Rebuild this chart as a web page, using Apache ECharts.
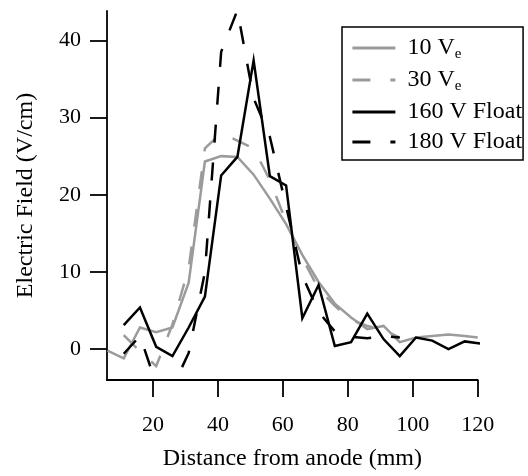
<!DOCTYPE html>
<html>
<head>
<meta charset="utf-8">
<script src="https://cdn.jsdelivr.net/npm/echarts@6/dist/echarts.min.js"></script>
<style>
html,body{margin:0;padding:0;background:#fff;}
#chart{width:528px;height:476px;}
</style>
</head>
<body>
<div id="chart"></div>
<script>
// Distance from anode (mm) and electric field (V/cm) per series
const x10 = [6, 11, 16, 21, 26, 31, 36, 41, 46, 51, 56, 61, 66, 71, 76, 81, 86, 91, 96, 101, 106, 111, 116, 120];
const y10 = [-0.2, -1.2, 2.8, 2.2, 2.8, 8.6, 24.3, 25.0, 24.9, 22.6, 19.5, 16.2, 12.2, 8.7, 5.9, 4.1, 2.6, 3.0, 0.9, 1.5, 1.7, 1.9, 1.7, 1.5];

const x30 = [11, 16, 21, 26, 31, 36, 41, 46, 51, 56, 61, 66, 71, 76, 81, 86, 91, 96];
const y30 = [1.8, -0.3, -2.2, 3.2, 10.5, 26.0, 28.0, 27.0, 26.0, 21.9, 16.5, 11.8, 7.8, 5.6, 3.8, 3.0, 2.5, 1.5];

const x160 = [11, 16, 21, 26, 31, 36, 41, 46, 51, 56, 61, 66, 71, 76, 81, 86, 91, 96, 101, 106, 111, 116, 121];
const y160 = [3.1, 5.4, 0.3, -0.9, 2.8, 6.8, 22.5, 24.9, 37.4, 22.4, 21.2, 4.0, 8.3, 0.4, 0.9, 4.6, 1.3, -0.9, 1.5, 1.1, 0.0, 1.0, 0.7];

const x180 = [11, 16, 21, 26, 31, 36, 41, 46, 51, 56, 61, 66, 71, 76, 81, 86, 91, 96];
const y180 = [-0.6, 1.7, -4.5, -5.0, -0.5, 10.0, 38.5, 43.9, 32.5, 27.5, 18.5, 9.5, 4.8, 2.3, 1.6, 1.4, 1.7, 1.5];

const seriesNames = ['10 Ve', '30 Ve', '160 V Float', '180 V Float'];
const xTicks = [20, 40, 60, 80, 100, 120];
const yTicks = [0, 10, 20, 30, 40];

const pairs = (xs, ys) => xs.map((x, i) => [x, ys[i]]);

const FONT = '"Liberation Serif", "Times New Roman", serif';
const GRAY = '#9b9b9b';
const DASH = [18, 20];

const chart = echarts.init(document.getElementById('chart'), null, {renderer: 'canvas'});

function mkSeries(name, data, color, dashed) {
  return {
    name: name,
    type: 'line',
    data: data,
    symbol: 'none',
    showSymbol: false,
    clip: true,
    lineStyle: {color: color, width: 2.5, type: dashed ? DASH : 'solid', cap: 'butt', join: 'miter'},
    itemStyle: {color: color},
    emphasis: {disabled: true}
  };
}

chart.setOption({
  animation: false,
  backgroundColor: '#fff',
  grid: {left: 107, right: 50.3, top: 11, bottom: 95, containLabel: false},
  xAxis: {
    type: 'value',
    min: 5.85,
    max: 120,
    name: 'Distance from anode (mm)',
    nameLocation: 'middle',
    nameGap: 67,
    nameTextStyle: {fontFamily: FONT, fontSize: 24, color: '#000'},
    axisLine: {show: true, onZero: false, lineStyle: {color: '#000', width: 1.8}},
    axisTick: {show: true, inside: false, length: 17, customValues: xTicks, lineStyle: {color: '#000', width: 1.8}},
    axisLabel: {show: true, customValues: xTicks, margin: 34, fontFamily: FONT, fontSize: 22, color: '#000'},
    splitLine: {show: false}
  },
  yAxis: {
    type: 'value',
    min: -4,
    max: 43.8,
    name: 'Electric Field (V/cm)',
    nameLocation: 'middle',
    nameGap: 69,
    nameTextStyle: {fontFamily: FONT, fontSize: 24, color: '#000'},
    axisLine: {show: true, onZero: false, lineStyle: {color: '#000', width: 1.8}},
    axisTick: {show: true, inside: false, length: 17, customValues: yTicks, lineStyle: {color: '#000', width: 1.8}},
    axisLabel: {show: true, customValues: yTicks, margin: 26, fontFamily: FONT, fontSize: 22, color: '#000'},
    splitLine: {show: false}
  },
  legend: {
    show: true,
    orient: 'vertical',
    left: 342,
    top: 27,
    padding: [9, 1, 6, 9],
    itemGap: 6,
    itemWidth: 43,
    itemHeight: 14,
    borderColor: '#000',
    borderWidth: 1.5,
    selectedMode: false,
    itemStyle: {opacity: 0, borderWidth: 0, color: 'transparent'},
    lineStyle: {width: 2.8},
    data: seriesNames,
    formatter: function (name) {
      if (name === '10 Ve') return '{v|10 V}{s|e}';
      if (name === '30 Ve') return '{v|30 V}{s|e}';
      return '{v|' + name + '}';
    },
    textStyle: {
      fontFamily: FONT,
      fontSize: 24,
      color: '#000',
      rich: {
        v: {fontFamily: FONT, fontSize: 24, color: '#000', lineHeight: 28, padding: [0, 0, 0, 7]},
        s: {fontFamily: FONT, fontSize: 15, color: '#000', lineHeight: 12, verticalAlign: 'bottom'}
      }
    }
  },
  series: [
    mkSeries(seriesNames[0], pairs(x10, y10), GRAY, false),
    mkSeries(seriesNames[1], pairs(x30, y30), GRAY, true),
    mkSeries(seriesNames[2], pairs(x160, y160), '#000', false),
    mkSeries(seriesNames[3], pairs(x180, y180), '#000', true)
  ]
});
</script>
</body>
</html>
